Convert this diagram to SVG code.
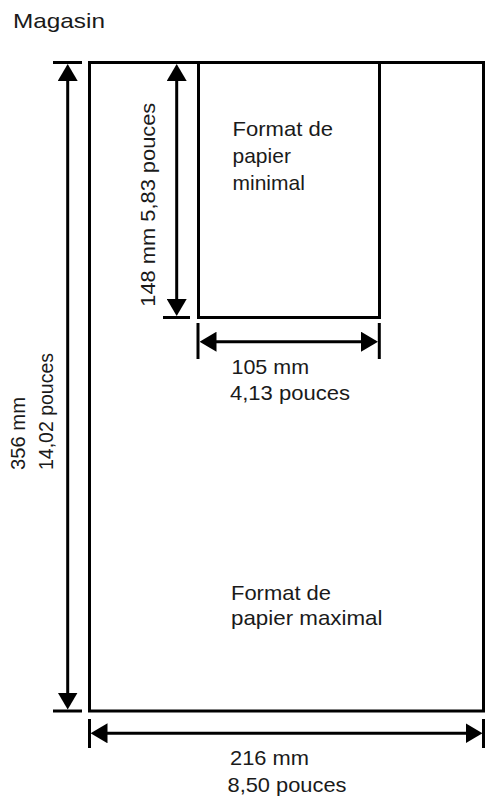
<svg xmlns="http://www.w3.org/2000/svg" width="495" height="801" viewBox="0 0 495 801">
<style>
  .ln { stroke: #000; stroke-width: 3; fill: none; }
  .dim { stroke: #000; stroke-width: 3; fill: none; marker-start: url(#ah); marker-end: url(#ah); }
  .t { font-family: "Liberation Sans", Arial, sans-serif; font-size: 21px; fill: #1a1a1a; }
</style>
<defs>
  <marker id="ah" markerUnits="userSpaceOnUse" markerWidth="17" markerHeight="20" viewBox="0 0 17 20" refX="13" refY="10" orient="auto-start-reverse">
    <path d="M0,0 L17,10 L0,20 z" fill="#000"/>
  </marker>
</defs>
<rect width="495" height="801" fill="#fff"/>
<text class="t" x="13" y="28" textLength="92" lengthAdjust="spacingAndGlyphs">Magasin</text>

<g id="max-paper">
  <rect class="ln" x="89.5" y="62.5" width="394" height="648.5"/>
  <text class="t" x="231" y="600" textLength="100" lengthAdjust="spacingAndGlyphs">Format de</text>
  <text class="t" x="231" y="625" textLength="151.5" lengthAdjust="spacingAndGlyphs">papier maximal</text>
</g>

<g id="min-paper">
  <rect class="ln" x="198.5" y="62.5" width="181" height="255"/>
  <text class="t" x="232.5" y="136" textLength="100.5" lengthAdjust="spacingAndGlyphs">Format de</text>
  <text class="t" x="232.5" y="163">papier</text>
  <text class="t" x="232.5" y="190">minimal</text>
</g>

<g id="connectors">
  <!-- height of maximal -->
  <line class="ln" x1="53" y1="62.5" x2="82" y2="62.5"/>
  <line class="ln" x1="53" y1="711" x2="82" y2="711"/>
  <line class="dim" x1="67.7" y1="68" x2="67.7" y2="705.5"/>
  <!-- height of minimal -->
  <line class="ln" x1="163" y1="317.5" x2="190" y2="317.5"/>
  <line class="dim" x1="176.7" y1="68" x2="176.7" y2="312"/>
  <!-- width of minimal -->
  <line class="ln" x1="198" y1="323" x2="198" y2="359"/>
  <line class="ln" x1="379.3" y1="323" x2="379.3" y2="359"/>
  <line class="dim" x1="203.5" y1="341.7" x2="374" y2="341.7"/>
  <!-- width of maximal -->
  <line class="ln" x1="89.5" y1="719" x2="89.5" y2="748"/>
  <line class="ln" x1="483.5" y1="719" x2="483.5" y2="748"/>
  <line class="dim" x1="94.5" y1="733.3" x2="478.5" y2="733.3"/>
</g>

<g id="labels">
  <text class="t" transform="translate(155,306.7) rotate(-90)" textLength="204" lengthAdjust="spacingAndGlyphs">148 mm 5,83 pouces</text>
  <text class="t" transform="translate(25,470) rotate(-90)" textLength="73" lengthAdjust="spacingAndGlyphs">356 mm</text>
  <text class="t" transform="translate(52.5,470) rotate(-90)" textLength="117" lengthAdjust="spacingAndGlyphs">14,02 pouces</text>
  <text class="t" x="231.5" y="374.3" textLength="77.5" lengthAdjust="spacingAndGlyphs">105 mm</text>
  <text class="t" x="230" y="400" textLength="120" lengthAdjust="spacingAndGlyphs">4,13 pouces</text>
  <text class="t" x="230" y="765" textLength="79" lengthAdjust="spacingAndGlyphs">216 mm</text>
  <text class="t" x="227.5" y="791.5" textLength="119" lengthAdjust="spacingAndGlyphs">8,50 pouces</text>
</g>
</svg>
